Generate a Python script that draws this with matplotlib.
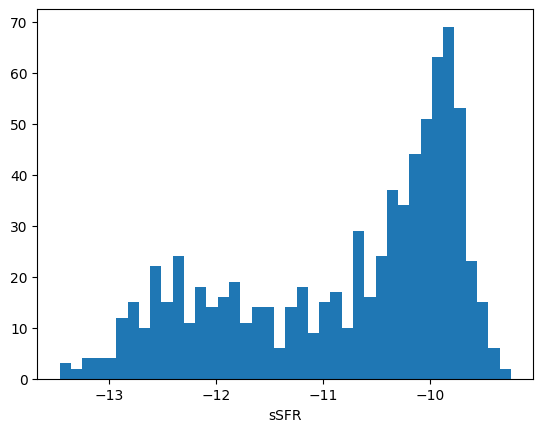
import numpy as np
import matplotlib
matplotlib.use("Agg")
import matplotlib.pyplot as plt

# histogram of sSFR: 40 bins
bin_lo = -13.46
bin_hi = -9.246
counts = [3, 2, 4, 4, 4, 12, 15, 10, 22, 15,
          24, 11, 18, 14, 16, 19, 11, 14, 14, 6,
          14, 18, 9, 15, 17, 10, 29, 16, 24, 37,
          34, 44, 51, 63, 69, 53, 23, 15, 6, 2]

edges = np.linspace(bin_lo, bin_hi, len(counts) + 1)
centers = 0.5 * (edges[:-1] + edges[1:])

fig, ax = plt.subplots(figsize=(6.4, 4.8), dpi=100)
ax.hist(centers, bins=edges, weights=counts, color="#1f77b4")
ax.set_xlabel("sSFR")
fig.savefig("out.png", dpi=100, bbox_inches="tight")
